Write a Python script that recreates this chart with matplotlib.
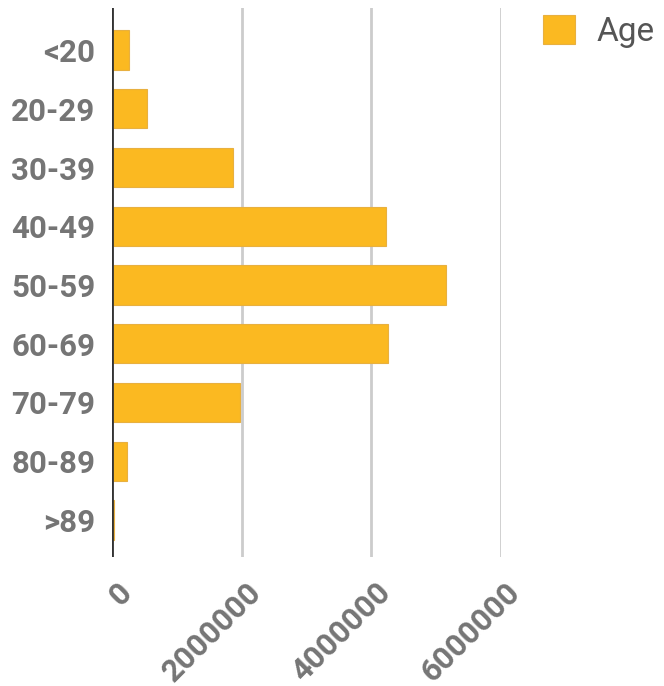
import matplotlib
matplotlib.use("Agg")
import matplotlib.pyplot as plt
import matplotlib.transforms as mtransforms
from matplotlib.patches import Patch

categories = ["<20", "20-29", "30-39", "40-49", "50-59", "60-69", "70-79", "80-89", ">89"]
values = [260000, 545000, 1870000, 4230000, 5150000, 4260000, 1970000, 227000, 25000]
xticks = [0, 2000000, 4000000, 6000000]
series_name = "Age"

plt.rcParams['font.family'] = ['Roboto', 'DejaVu Sans']

fig = plt.figure(figsize=(6.64, 6.86), dpi=100)
ax = fig.add_axes([112/664, 1 - 557/686, (501 - 112)/664, (557 - 8)/686])

bar_color = "#FBB921"
ypos = list(range(len(categories)))
ax.barh(ypos, values, height=0.67, color=bar_color, edgecolor="#E8B040", linewidth=0.8, zorder=3)

ax.set_xlim(0, 6000000)
ax.set_ylim(8.63, -0.715)
ax.tick_params(axis='both', length=0)
ax.tick_params(axis='y', pad=12)
ax.tick_params(axis='x', pad=8)

ax.set_yticks(ypos)
ax.set_yticklabels(categories, fontsize=22.5, fontweight='bold', color='#757575')
ax.set_xticks(xticks)
ax.set_xticklabels([str(v) for v in xticks], fontsize=22.5, fontweight='bold', color='#757575',
                   rotation=45, ha='right', va='top', rotation_mode='anchor')
offset = mtransforms.ScaledTranslation(4/100, -9/100, fig.dpi_scale_trans)
for lab in ax.get_xticklabels():
    lab.set_transform(lab.get_transform() + offset)

for s in ax.spines.values():
    s.set_visible(False)
ax.grid(axis='x', color='#CCCCCC', linewidth=2, zorder=0)
ax.grid(axis='y', visible=False)
ax.axvline(0, color='#333333', linewidth=2, zorder=4)

handle = Patch(facecolor=bar_color, edgecolor="#E8B040", linewidth=0.8)
leg = fig.legend([handle], [series_name], loc='upper left', bbox_to_anchor=(543/664, 1 - 15/686),
                 frameon=False, fontsize=24, handlelength=0.95, handleheight=0.95,
                 handletextpad=0.65, labelcolor='#555555', borderpad=0, borderaxespad=0)

fig.savefig("out.png", dpi=100)
